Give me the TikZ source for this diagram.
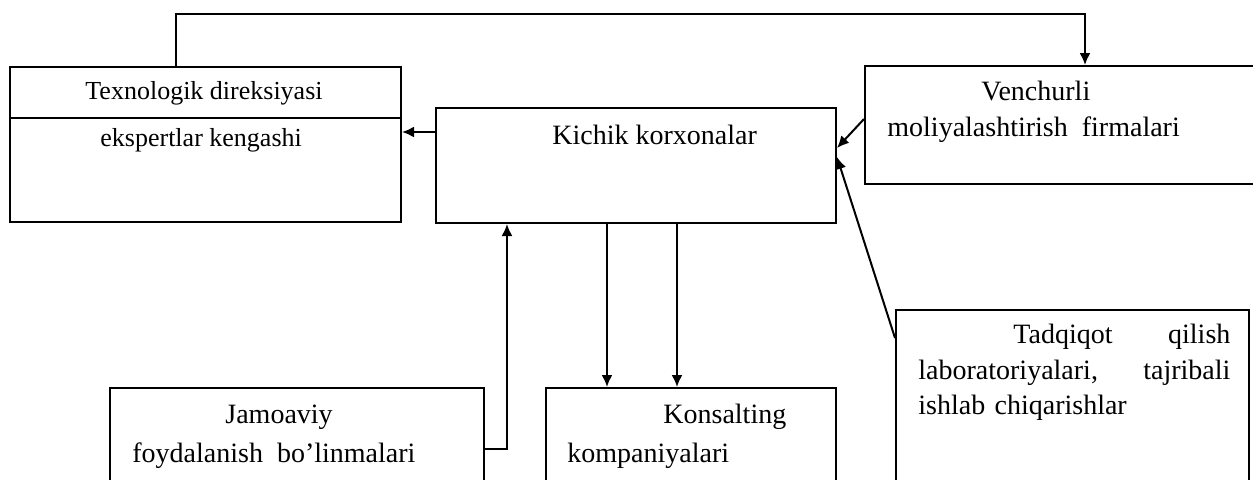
\documentclass[tikz,border=0pt]{standalone}
\usepackage{fontspec}
\setmainfont{Liberation Serif}
\usetikzlibrary{arrows.meta, positioning}

\begin{document}
\begin{tikzpicture}[x=0.5pt, y=-0.5pt,
    blok/.style={draw, line width=1pt, inner sep=0pt, anchor=north west},
    matn/.style={inner sep=0pt, anchor=base west, font=\fontsize{14}{17}\selectfont},
    strelka/.style={line width=1pt, -{Latex[length=6pt, width=5.5pt]}}]
\useasboundingbox (0,0) rectangle (1253,479);
\clip (0,0) rectangle (1253,479);

\node[blok, minimum width=195.5pt, minimum height=77.5pt] (texbox) at (9,66) {};
\draw[line width=1pt] ([yshift=-26pt]texbox.north west) -- ([yshift=-26pt]texbox.north east);
\node[matn, font=\fontsize{13}{16}\selectfont] (tex1) at (85,99) {Texnologik\ direksiyasi};
\node[matn, font=\fontsize{13}{16}\selectfont] (tex2) at (100,146) {ekspertlar kengashi};

\node[blok, minimum width=200pt, minimum height=57.5pt] (kichik) at (435,107) {};
\node[matn] (kichik1) at (552,144) {Kichik korxonalar};

\node[blok, minimum width=203pt, minimum height=59pt] (venchur) at (864,65) {};
\node[matn] (ven1) at (981,100) {Venchurli};
\node[matn] (ven2) at (887,136) {moliyalashtirish\ \ firmalari};

\node[blok, minimum width=176.5pt, minimum height=105.5pt] (tadqiq) at (895,309) {};
\node[matn, text width=156pt, align=left] (tad1) at (918,343) {\hspace*{47.5pt}Tadqiqot\hfill qilish};
\node[matn, text width=156pt, align=left] (tad2) at (918,379) {laboratoriyalari,\hfill tajribali};
\node[matn, text width=156pt, align=left] (tad3) at (918,414) {ishlab chiqarishlar};

\node[blok, minimum width=187pt, minimum height=65pt] (jamoa) at (109,387) {};
\node[matn] (jam1) at (225,423) {Jamoaviy};
\node[matn] (jam2) at (132,462) {foydalanish\ \ bo’linmalari};

\node[blok, minimum width=145pt, minimum height=65pt] (konsalt) at (545,387) {};
\node[matn] (kon1) at (663,423) {Konsalting};
\node[matn] (kon2) at (567,462) {kompaniyalari};

\coordinate (t1) at ([xshift=83.5pt]texbox.north west);
\coordinate (t2) at ([xshift=110.5pt]venchur.north west);
\draw[strelka] (t1) -- ++(0,-52) -| (t2);

\coordinate (k1) at ([yshift=-12.5pt]kichik.north west);
\draw[strelka] (k1) -- (k1 -| texbox.east);

\draw[strelka] ([yshift=-27pt]venchur.north west) -- ([yshift=-20.5pt]kichik.north east);
\draw[strelka] ([yshift=-14.5pt]tadqiq.north west) -- ([yshift=-25pt]kichik.north east);

\coordinate (j1) at ([yshift=-31pt]jamoa.north east);
\coordinate (j2) at ([xshift=11pt]j1);
\draw[strelka] (j1) -- (j2) -- (j2 |- kichik.south);

\coordinate (s1) at ([xshift=86pt]kichik.south west);
\coordinate (s2) at ([xshift=121pt]kichik.south west);
\draw[strelka] (s1) -- (s1 |- konsalt.north);
\draw[strelka] (s2) -- (s2 |- konsalt.north);

\end{tikzpicture}
\end{document}
